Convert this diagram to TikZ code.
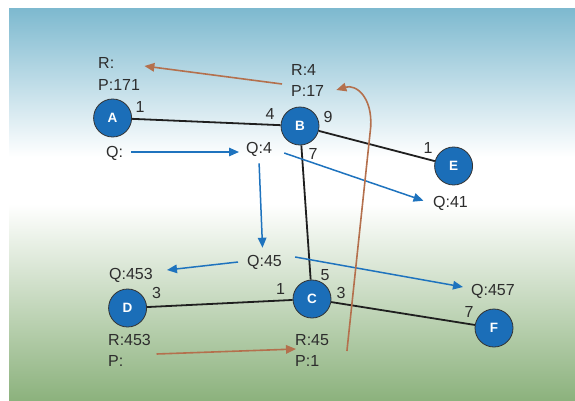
\documentclass[tikz,border=0pt]{standalone}
\usepackage{fontspec}
\setmainfont{Liberation Sans}
\usetikzlibrary{arrows.meta,calc}
\definecolor{bgtop}{RGB}{125,185,207}
\definecolor{bgbot}{RGB}{140,178,125}
\definecolor{nodeblue}{RGB}{27,110,184}
\definecolor{arrblue}{RGB}{30,115,190}
\definecolor{arrbrown}{RGB}{180,112,77}
\definecolor{txt}{RGB}{45,45,45}
\pgfdeclareverticalshading{bgshade}{100bp}{color(0bp)=(bgbot); color(25bp)=(bgbot); color(50bp)=(white); color(56bp)=(white); color(75bp)=(bgtop); color(100bp)=(bgtop)}
\begin{document}
\begin{tikzpicture}[x=1pt,y=-1pt,
  vert/.style={circle,fill=nodeblue,draw=black!80,line width=0.8pt,minimum size=38pt,inner sep=0pt,text=white,font=\fontsize{13.5}{13.5}\selectfont\bfseries},
  lbl/.style={anchor=west,inner sep=0pt,text=txt,font=\fontsize{16}{16}\selectfont},
  elbl/.style={inner sep=0pt,text=txt,font=\fontsize{16}{16}\selectfont},
  edgeline/.style={line width=1.8pt,draw=black!88},
  barrow/.style={line width=1.5pt,draw=arrblue,-{Triangle[length=10pt,width=8.5pt]}},
  brarrow/.style={line width=1.6pt,draw=arrbrown,-{Triangle[length=10pt,width=8.5pt]}}]
\useasboundingbox (0,0) rectangle (575,400);
\shade[shading=bgshade] (9,8) rectangle (575,400);

% vertices
\node[vert] (A) at (112.6,118) {A};
\node[vert] (B) at (300,126) {B};
\node[vert] (E) at (453.6,166) {E};
\node[vert] (C) at (312,299) {C};
\node[vert] (D) at (127.6,308) {D};
\node[vert] (F) at (494,328) {F};

% edges
\draw[edgeline] (A) -- (B);
\draw[edgeline] (B) -- (E);
\draw[edgeline] (B) -- (C);
\draw[edgeline] (D) -- (C);
\draw[edgeline] (C) -- (F);

% edge labels
\node[elbl] (la1) at (140,107) {1};
\node[elbl] (lb4) at (270,114) {4};
\node[elbl] (lb9) at (328,117) {9};
\node[elbl] (le1) at (428,148) {1};
\node[elbl] (lb7) at (313,154) {7};
\node[elbl] (lc5) at (325,275) {5};
\node[elbl] (lc1) at (280.5,289) {1};
\node[elbl] (lc3) at (341,293) {3};
\node[elbl] (ld3) at (156.6,293) {3};
\node[elbl] (lf7) at (469,312) {7};

% text labels
\node[lbl] (rA) at (98,63) {R:};
\node[lbl] (pA) at (98,85) {P:171};
\node[lbl] (rB) at (291,70) {R:4};
\node[lbl] (pB) at (291,91) {P:17};
\node[lbl] (qA) at (106,153) {Q:};
\node[lbl] (qB) at (246,149) {Q:4};
\node[lbl] (qE) at (433,203) {Q:41};
\node[lbl] (qC) at (247,262) {Q:45};
\node[lbl] (qD) at (109,275) {Q:453};
\node[lbl] (qF) at (471,291) {Q:457};
\node[lbl] (rD) at (108,340) {R:453};
\node[lbl] (pD) at (108,361) {P:};
\node[lbl] (rC) at (295,340) {R:45};
\node[lbl] (pC) at (295,361) {P:1};

% blue arrows
\draw[barrow] ($(qA.east)+(8,-1)$) -- ($(qA.east -| qB.west)+(-7,-1)$);
\draw[barrow] ($(qB.south)+(0,7)$) -- ($(qC.north)+(-2,-7)$);
\draw[barrow] ($(qB.east)+(12,4)$) -- ($(qE.west)+(-9.5,-2.3)$);
\draw[barrow] ($(qC.west)+(-9,0)$) -- ($(qD.east)+(14,-5)$);
\draw[barrow] ($(qC.east)+(13,-5)$) -- ($(qF.west)+(-8,-4)$);

% brown arrows
\draw[brarrow] ($(pB.west)+(-9,-7)$) -- ($(rA.east)+(30,3)$);
\draw[brarrow] ($(pD.east)+(33,-7)$) -- ($(rC.west)+(1,9)$);
\draw[brarrow] ($(pC.east)+(27.5,-10)$) -- (370.7,127) .. controls (372.5,97) and (356,84) .. ($(pB.east)+(12,-1)$);
\end{tikzpicture}
\end{document}
